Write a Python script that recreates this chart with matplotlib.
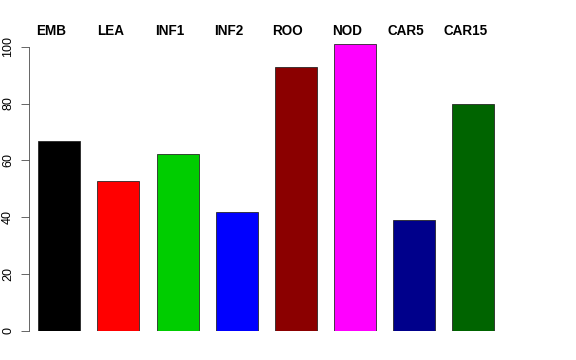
import matplotlib
matplotlib.use("Agg")
import matplotlib.pyplot as plt
import numpy as np

categories = ["EMB", "LEA", "INF1", "INF2", "ROO", "NOD", "CAR5", "CAR15"]
values = [66.7, 52.6, 62.2, 41.9, 92.7, 101.0, 39.0, 80.0]
colors = ["#000000", "#FF0000", "#00CD00", "#0000FF", "#8B0000", "#FF00FF", "#00008B", "#006400"]
yticks = [0, 20, 40, 60, 80, 100]

plt.rcParams['font.family'] = ['Liberation Sans', 'DejaVu Sans']

fig = plt.figure(figsize=(8, 5), dpi=72)
W, H = 576, 360
left_px, right_px = 29, 546
bottom_px = 331
px_per_unit_y = 284.3 / 100
ymax = 108
top_px = bottom_px - ymax * px_per_unit_y
ax = fig.add_axes([left_px / W, (H - bottom_px) / H, (right_px - left_px) / W, (bottom_px - top_px) / H])

x = np.arange(len(categories))
ax.bar(x, values, width=0.71, color=colors, edgecolor="#222222", linewidth=0.8)

ax.set_xlim(-0.512, 8.23)
ax.set_ylim(0, ymax)

for s in ["top", "right", "bottom"]:
    ax.spines[s].set_visible(False)
ax.spines["left"].set_bounds(0, 100)
ax.spines["left"].set_color("#444444")
ax.spines["left"].set_linewidth(0.8)
ax.set_xticks([])
ax.set_yticks(yticks)
ax.set_yticklabels([str(t) for t in yticks], rotation=90, va="center", fontsize=12.5)
ax.tick_params(axis="y", length=8, width=0.8, color="#444444", pad=7)

for xi, lab in zip(x, categories):
    ax.text(xi - 0.135, 105.6, lab, ha="center", va="center", fontsize=13.5,
            fontweight="bold", clip_on=False)

fig.savefig("out.png", dpi=72)
